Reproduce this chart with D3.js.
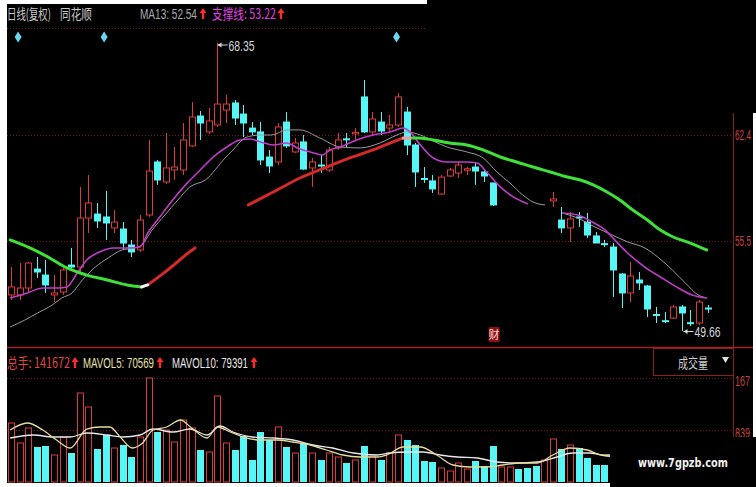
<!DOCTYPE html>
<html><head><meta charset="utf-8">
<script src="https://cdn.jsdelivr.net/npm/d3@7/dist/d3.min.js"></script>
<style>
html,body{margin:0;padding:0;background:#fff;}
svg{display:block;}
text{font-family:"Liberation Sans","Noto Sans CJK SC",sans-serif;}
</style>
</head><body>
<svg id="chart" width="756" height="487"></svg>
<script>
// ---------- DATA ----------
const opens  = [52.00,52.00,52.45,53.68,53.29,52.00,52.19,53.94,53.81,56.99,57.25,57.06,56.35,56.28,55.24,54.92,57.19,60.63,59.33,60.11,60.11,61.67,63.61,62.58,63.03,64.00,64.46,63.74,62.83,62.58,60.95,60.63,63.22,61.28,61.93,60.24,60.43,60.11,61.54,62.13,62.51,64.85,62.58,63.22,62.83,63.03,63.87,61.73,59.56,59.40,58.55,59.72,59.91,60.17,60.30,59.98,59.27,null,null,null,null,null,null,58.10,56.86,56.35,57.06,56.73,55.83,55.33,55.11,53.36,52.13,52.97,52.58,50.73,50.33,50.50,51.22,50.20,50.18,51.15];
const highs  = [53.81,54.07,54.14,54.46,54.27,53.29,53.75,55.05,59.01,59.78,57.97,58.75,57.51,56.73,55.57,57.19,62.06,60.76,62.51,61.60,63.16,64.52,63.94,64.13,68.35,64.98,64.65,64.33,63.22,63.22,61.41,63.16,63.87,62.19,62.38,60.89,61.08,61.60,62.51,62.51,62.83,65.95,63.87,63.87,63.68,65.11,64.20,61.86,60.30,59.78,59.78,60.24,60.63,60.30,60.56,60.11,59.27,null,null,null,null,null,null,58.68,57.71,57.38,57.38,57.32,56.08,55.57,55.37,53.42,54.14,53.49,52.65,51.22,50.89,51.35,51.35,51.02,51.67,51.35];
const lows   = [51.67,51.67,52.13,53.10,52.13,51.54,52.00,53.62,53.42,56.02,56.35,55.57,56.02,54.92,54.46,54.79,57.06,59.14,59.20,59.46,59.78,61.60,62.06,62.45,62.90,63.16,63.03,62.25,62.38,60.43,59.91,60.43,61.54,61.21,60.11,59.01,59.91,59.98,61.41,61.60,62.06,62.51,62.38,62.38,62.58,62.90,61.08,59.01,59.27,58.62,58.49,59.65,59.59,59.78,59.14,59.33,57.77,null,null,null,null,null,null,57.71,56.02,55.44,56.41,55.70,55.37,55.11,51.87,51.15,51.54,52.32,50.57,50.18,50.18,50.44,49.66,49.98,50.05,50.83];
const closes = [52.52,52.45,54.07,53.49,52.65,52.13,53.62,53.81,56.99,57.97,56.80,56.67,56.73,55.37,54.79,56.86,60.04,59.46,60.24,60.30,62.06,63.55,63.16,63.29,64.39,64.39,63.48,63.16,62.58,60.76,60.37,62.90,61.67,61.86,60.17,60.63,60.40,61.41,62.06,62.10,62.55,62.58,63.42,62.64,63.03,64.85,61.73,59.98,59.52,58.88,59.65,60.11,60.43,60.19,60.04,59.72,57.84,null,null,null,null,null,null,58.23,56.35,56.93,57.03,55.89,55.37,55.30,53.62,52.13,53.23,52.78,51.09,50.70,50.31,51.22,50.83,50.18,51.54,51.13];

const volumes = [95240,62950,87160,56500,58110,43580,72640,46810,143660,121060,53270,75870,54880,59720,40350,72640,167872,80710,83940,64570,100080,87160,51650,48430,138820,62950,51650,74250,35510,80710,67800,88780,56500,46810,62950,46810,35510,46810,40350,30670,35510,58110,41970,35510,46810,75870,67800,59720,33900,32280,22600,17760,30670,20980,33900,25830,58110,24210,24210,20980,22600,25830,35510,69410,53270,59720,54880,38740,27440,27440,61000,52000,47000,33000,45000,30000,26000,34000,39000,28000,51000,36000];
const volRise = [1,1,1,0,0,1,1,0,1,1,0,0,1,0,0,1,1,0,1,1,1,1,0,1,1,1,0,0,0,0,0,1,0,1,0,1,0,1,1,0,1,0,1,0,1,1,0,0,0,0,1,1,1,1,0,0,0,1,1,0,0,0,1,1,0,1,0,0,0,0,0,0,1,0,0,0,0,1,0,0,1,0];

// thin moving-average lines: [slot index, price]
const maGrey = [
 [[-0.1,49.92],[1.6,50.37],[3.1,50.83],[4.8,51.35],[5.9,51.80],[7.1,52.13],[8.3,52.97],[9.8,53.81],[11.3,54.40],[12.9,54.92],[14.4,55.05],[15.2,55.24],[16.4,56.21],[17.9,57.19],[19.4,58.16],[20.8,59.01],[22.6,59.46],[24.9,60.89],[25.8,61.41],[27.2,62.19],[28,62.32],[29,62.38],[30.3,62.38],[32.1,62.71],[33.6,62.71],[35.9,62.19],[38.3,61.60],[40.6,61.54],[42.9,61.86],[44.9,62.38],[46,62.58],[47.6,62.38],[49.1,61.99],[50.7,61.60],[53,61.28],[54.9,60.89],[56.5,59.98],[58,59.27],[59.5,58.49],[60.7,58.03],[62.1,57.84]],
 [[64.1,57.32],[65.9,56.99],[67.9,56.41],[69.9,55.89],[71.7,55.44],[73.7,55.05],[75.2,54.46],[76.9,53.62],[78.4,52.78],[79.9,52.00],[80.9,51.80]]
];
const maPurple = [
 [[-0.1,51.80],[1.9,52.13],[3.7,52.45],[5.5,52.45],[6.5,52.52],[7.7,53.42],[8.8,54.27],[10.3,54.79],[11.9,55.05],[13.5,55.05],[15,55.11],[15.9,56.02],[17.3,57.06],[18.8,58.16],[20.5,59.27],[22,60.11],[23.5,60.95],[25.1,61.60],[26.6,62.06],[27.8,62.12],[29,61.93],[30.5,61.73],[32.1,61.86],[33.3,61.54],[34.8,61.28],[36.2,61.08],[37.1,61.41],[38.3,61.60],[40.2,62.06],[42.1,62.38],[44.1,62.58],[45.6,62.83],[46.4,62.58],[47.6,61.73],[49.1,60.89],[50.7,60.63],[53,60.63],[54.2,60.56],[55.3,59.98],[56.9,59.01],[58.4,58.36],[60.1,57.90]],
 [[64.1,57.32],[65.9,57.19],[67.6,56.73],[69.1,56.21],[70.2,55.57],[71.7,54.72],[73.7,53.81],[75.7,53.10],[77.6,52.45],[79.2,52.00],[80.9,51.80]]
];
// thick support line (支撑线) segments: falling = green, rising = red
const supportFall1 = [[-0.1,55.57],[2.2,55.05],[4.5,54.40],[6.5,53.75],[8.8,53.29],[11.2,52.97],[13.5,52.65],[15.2,52.52]];
const supportTurn1 = [[15.2,52.52],[15.9,52.65]];
const supportRise1 = [[15.9,52.65],[17.6,53.35],[18.5,53.75],[20.9,54.85],[21.4,55.05]];
const supportRise2 = [[27.6,57.84],[30.5,58.68],[33.6,59.59],[36.7,60.30],[39.4,60.89],[42.1,61.41],[44.4,61.93],[45.6,62.19]];
const supportTurn2 = [[45.6,62.19],[46.4,62.19]];
const supportFall2 = [[46.4,62.19],[47.2,62.19],[49.1,62.06],[51,61.86],[53,61.73],[54.9,61.41],[56.9,60.95],[58.8,60.63],[60.7,60.30],[62.7,59.98],[64.7,59.65],[66.2,59.46],[67.7,59.14],[69.3,58.68],[70.8,58.16],[72.3,57.51],[74,56.86],[75.5,56.21],[77,55.76],[78.6,55.44],[80.1,55.11],[80.9,54.92]];

// volume moving averages: [slot index, volume]
const mavol5 = [[-0.1,83930],[1.9,95230],[3.7,83930],[5.3,67790],[6.9,54880],[8.8,85540],[10.3,88770],[11.5,88770],[12.7,72630],[14.1,54880],[15.3,62950],[16.5,83930],[18.1,88770],[19.7,100070],[21,87160],[22.8,71020],[24,88770],[25.5,80700],[27,72630],[29,67790],[30.9,67790],[32.8,64560],[34.8,59720],[36.7,51650],[38.6,43580],[40.6,40350],[42.6,40350],[43.7,43580],[45.6,56490],[47.6,56490],[49.5,43580],[51.4,27440],[53.4,24210],[55.3,24210],[57.2,27440],[59.2,30670],[61.2,30670],[63,43580],[65,54880],[67,51650],[68.8,43580],[69.7,43580],[72,40000],[76,35000],[80.9,38000]];
const mavol10 = [[-0.1,71020],[2.6,75860],[4.9,72630],[6.9,72630],[8.8,79090],[11.2,75860],[13,72630],[15,75860],[16.5,85540],[18.8,80700],[20.8,85540],[22.8,75860],[24.3,90380],[25.8,80700],[28.1,72630],[30.5,71020],[32.8,67790],[35.1,59720],[37.4,54880],[39.8,46810],[42.6,43580],[44.1,46810],[46,48420],[47.9,48420],[49.9,43580],[51.9,40350],[54.2,38740],[56.5,32280],[58.8,30670],[61.2,32280],[63.5,40350],[65.3,46810],[67.3,46810],[69.3,41960],[73,40000],[77,38000],[80.9,39000]];

const priceTicks = [62.4, 55.5];
const priceTickLabels = ["62.4", "55.5"];
const topGridPrice = 69.3;
const volTicks = [167872, 83936];
const volTickLabels = ["167", "839"];
const markerSlots = [1, 11, 45];          // cyan diamonds on top
const highMark = {slot: 24, value: 68.35};
const lowMark  = {slot: 78, value: 49.66};
const caiSlot = 56;

// ---------- DRAW ----------
const svg = d3.select("#chart");
const W = 756, H = 487;
const RED = "#d83c3c", CYAN = "#56f6f6", GRID = "#7c1a1a";

const x = d3.scaleLinear().domain([0, 81]).range([11, 707.6]);
const y = d3.scaleLinear().domain([49.66, 68.35]).range([331, 43]);
const yv = d3.scaleLinear().domain([0, 167872]).range([482, 378]);

// helper: condensed text (the original uses a narrow face) via horizontal scaling
function ntext(g, xx, yy, str, width, color, size, opts = {}) {
  const t = g.append("text").attr("x", 0).attr("y", 0).attr("fill", color).attr("font-size", size).text(str);
  if (opts.cjk) t.style("font-family", "'Noto Sans CJK SC',sans-serif");
  if (opts.font) t.style("font-family", opts.font);
  if (opts.bold) t.attr("font-weight", "bold");
  const nat = t.node().getComputedTextLength() || width;
  const sx = Math.min(1, width / nat);
  t.attr("transform", `translate(${xx},${yy}) scale(${sx},1)`);
  return t;
}
// thick red "up" arrow drawn next to a legend value
function upArrow(g, xx, yy) {
  g.append("path").attr("d", `M${xx + 3},${yy - 11}L${xx + 6.5},${yy - 6}H${xx + 4.2}V${yy}H${xx + 1.8}V${yy - 6}H${xx - 0.5}Z`).attr("fill", "#ff2a2a");
}

svg.append("rect").attr("width", W).attr("height", H).attr("fill", "#000");

// grid lines
const grid = svg.append("g").attr("stroke", GRID).attr("stroke-dasharray", "1,2").attr("stroke-width", 1);
grid.selectAll("line.p").data(priceTicks).join("line")
  .attr("x1", 7).attr("x2", 733).attr("y1", d => Math.round(y(d)) + 0.5).attr("y2", d => Math.round(y(d)) + 0.5);
grid.append("line").attr("x1", 7).attr("x2", 427).attr("y1", Math.round(y(topGridPrice)) + 0.5).attr("y2", Math.round(y(topGridPrice)) + 0.5);
grid.selectAll("line.v").data(volTicks).join("line")
  .attr("x1", 7).attr("x2", 733).attr("y1", d => Math.round(yv(d)) + 0.5).attr("y2", d => Math.round(yv(d)) + 0.5);

// axis & separators
svg.append("line").attr("x1", 733.5).attr("x2", 733.5).attr("y1", 113).attr("y2", 487).attr("stroke", "#8e1e1e");
svg.append("line").attr("x1", 7).attr("x2", 753).attr("y1", 347.5).attr("y2", 347.5).attr("stroke", "#a02424").attr("stroke-width", 1.5);
svg.append("rect").attr("x", 653.5).attr("y", 348.5).attr("width", 80).attr("height", 27).attr("fill", "none").attr("stroke", "#8e1e1e");

// tick labels
const tl = svg.append("g");
priceTicks.forEach((d, i) => ntext(tl, 735, y(d) + 5, priceTickLabels[i], 16, "#c84040", 14));
volTicks.forEach((d, i) => ntext(tl, 735, yv(d) + 8, volTickLabels[i], 15, "#c84040", 14));

// candles
const idx = d3.range(opens.length).filter(i => opens[i] !== null);
const cg = svg.append("g");
idx.forEach(i => {
  const up = closes[i] >= opens[i];
  const col = up ? RED : CYAN;
  const cx = Math.round(x(i)) + 0.5;
  const top = y(Math.max(opens[i], closes[i])), bot = y(Math.min(opens[i], closes[i]));
  cg.append("line").attr("x1", cx).attr("x2", cx).attr("y1", y(highs[i])).attr("y2", y(lows[i])).attr("stroke", col).attr("stroke-width", 1);
  const h = Math.max(1, bot - top);
  if (up) {
    cg.append("rect").attr("x", cx - 3).attr("y", top).attr("width", 6).attr("height", Math.max(h, 1.5))
      .attr("fill", "#000").attr("stroke", col).attr("stroke-width", 1);
  } else {
    cg.append("rect").attr("x", cx - 3.5).attr("y", top - 0.5).attr("width", 7).attr("height", h + 1).attr("fill", col);
  }
});

// moving-average lines
const lineGen = d3.line().x(d => x(d[0])).y(d => y(d[1])).curve(d3.curveMonotoneX);
maGrey.forEach(seg => svg.append("path").attr("d", lineGen(seg)).attr("fill", "none").attr("stroke", "#9a9a9a").attr("stroke-width", 1));
maPurple.forEach(seg => svg.append("path").attr("d", lineGen(seg)).attr("fill", "none").attr("stroke", "#c03cc8").attr("stroke-width", 1.6));

// support line
[[supportFall1, "#3fe03a"], [supportRise1, "#d42a2a"], [supportRise2, "#d42a2a"], [supportFall2, "#3fe03a"], [supportTurn1, "#ffffff"], [supportTurn2, "#f0a0a0"]]
  .forEach(([seg, c]) => svg.append("path").attr("d", lineGen(seg)).attr("fill", "none").attr("stroke", c).attr("stroke-width", 3).attr("stroke-linecap", "round"));

// volume bars
const vg = svg.append("g");
volumes.forEach((v, i) => {
  const cx = Math.round(x(i)) + 0.5;
  if (volRise[i]) {
    vg.append("rect").attr("x", cx - 3).attr("y", yv(v)).attr("width", 6).attr("height", yv(0) - yv(v))
      .attr("fill", "#000").attr("stroke", RED).attr("stroke-width", 1);
  } else {
    vg.append("rect").attr("x", cx - 3.5).attr("y", yv(v)).attr("width", 7).attr("height", yv(0) - yv(v)).attr("fill", CYAN);
  }
});
const vline = d3.line().x(d => x(d[0])).y(d => yv(d[1])).curve(d3.curveMonotoneX);
svg.append("path").attr("d", vline(mavol10)).attr("fill", "none").attr("stroke", "#e8e8e8").attr("stroke-width", 1.3);
svg.append("path").attr("d", vline(mavol5)).attr("fill", "none").attr("stroke", "#e6dc9c").attr("stroke-width", 1.3);

// markers
svg.selectAll("path.dia").data(markerSlots).join("path")
  .attr("d", d => { const cx = x(d) - 1.5, cy = 37; return `M${cx},${cy - 5.5}L${cx + 3.5},${cy}L${cx},${cy + 5.5}L${cx - 3.5},${cy}Z`; })
  .attr("fill", "#6ad6ee");

// high / low annotations
const ann = svg.append("g");
const hx = Math.round(x(highMark.slot)) + 0.5, hy = y(highMark.value) + 2;
ann.append("line").attr("x1", hx).attr("x2", hx + 10).attr("y1", hy).attr("y2", hy).attr("stroke", "#d8d8d8");
ann.append("path").attr("d", `M${hx},${hy}l4,-2.5v5z`).attr("fill", "#d8d8d8");
ntext(ann, hx + 11, hy + 5.5, highMark.value.toFixed(2), 26, "#d8d8d8", 15);
const lx = Math.round(x(lowMark.slot)) + 1.5, ly = y(lowMark.value) + 0.5;
ann.append("line").attr("x1", lx).attr("x2", lx + 10).attr("y1", ly).attr("y2", ly).attr("stroke", "#d8d8d8");
ann.append("path").attr("d", `M${lx},${ly}l4,-2.5v5z`).attr("fill", "#d8d8d8");
ntext(ann, lx + 11, ly + 5.5, lowMark.value.toFixed(2), 26, "#d8d8d8", 15);

// 财 badge
const bx = x(caiSlot) - 4;
svg.append("rect").attr("x", bx).attr("y", 327).attr("width", 11).attr("height", 15).attr("fill", "#8c1010").attr("rx", 1);
svg.append("text").attr("x", bx + 5.5).attr("y", 339).attr("text-anchor", "middle").attr("fill", "#f4dcdc").attr("font-size", 11)
  .style("font-family", "'Noto Sans CJK SC',sans-serif").text("财");

// header texts
const hdr = svg.append("g");
ntext(hdr, 7, 19, "日线(复权)", 44, "#c8c8c8", 14, {cjk: true});
ntext(hdr, 60, 19, "同花顺", 32, "#c8c8c8", 14, {cjk: true});
ntext(hdr, 140, 19, "MA13: 52.54", 57, "#a8a8a8", 15);
upArrow(hdr, 200, 19);
ntext(hdr, 212, 19, "支撑线: 53.22", 64, "#e040e0", 14, {cjk: true});
upArrow(hdr, 278, 19);

const vh = svg.append("g");
ntext(vh, 7, 368, "总手: 141672", 63, "#e04848", 14, {cjk: true});
upArrow(vh, 72, 368);
ntext(vh, 83, 368, "MAVOL5: 70569", 71, "#e6e0a8", 15);
upArrow(vh, 157, 368);
ntext(vh, 172, 368, "MAVOL10: 79391", 76, "#e8e8e8", 15);
upArrow(vh, 251, 368);
ntext(svg, 678, 368, "成交量", 30, "#cfcfcf", 14, {cjk: true});
svg.append("path").attr("d", "M722,357h7l-3.5,6z").attr("fill", "#e0e0e0");

// frame bits (white margins of the screenshot) and watermark
svg.append("rect").attr("x", 0).attr("y", 0).attr("width", 7).attr("height", H).attr("fill", "#fff");
svg.append("rect").attr("x", 0).attr("y", 0).attr("width", 427).attr("height", 4).attr("fill", "#fff");
svg.append("rect").attr("x", 753).attr("y", 113).attr("width", 3).attr("height", 324).attr("fill", "#fff");
svg.append("rect").attr("x", 0).attr("y", 483).attr("width", 610).attr("height", 4).attr("fill", "#fff");
svg.append("rect").attr("x", 610).attr("y", 437).attr("width", 146).attr("height", 50).attr("fill", "#000");
ntext(svg, 638, 467, "www.7gpzb.com", 90, "#f2f2f2", 13, {bold: true, font: "'DejaVu Sans',sans-serif"});
</script>
</body></html>
